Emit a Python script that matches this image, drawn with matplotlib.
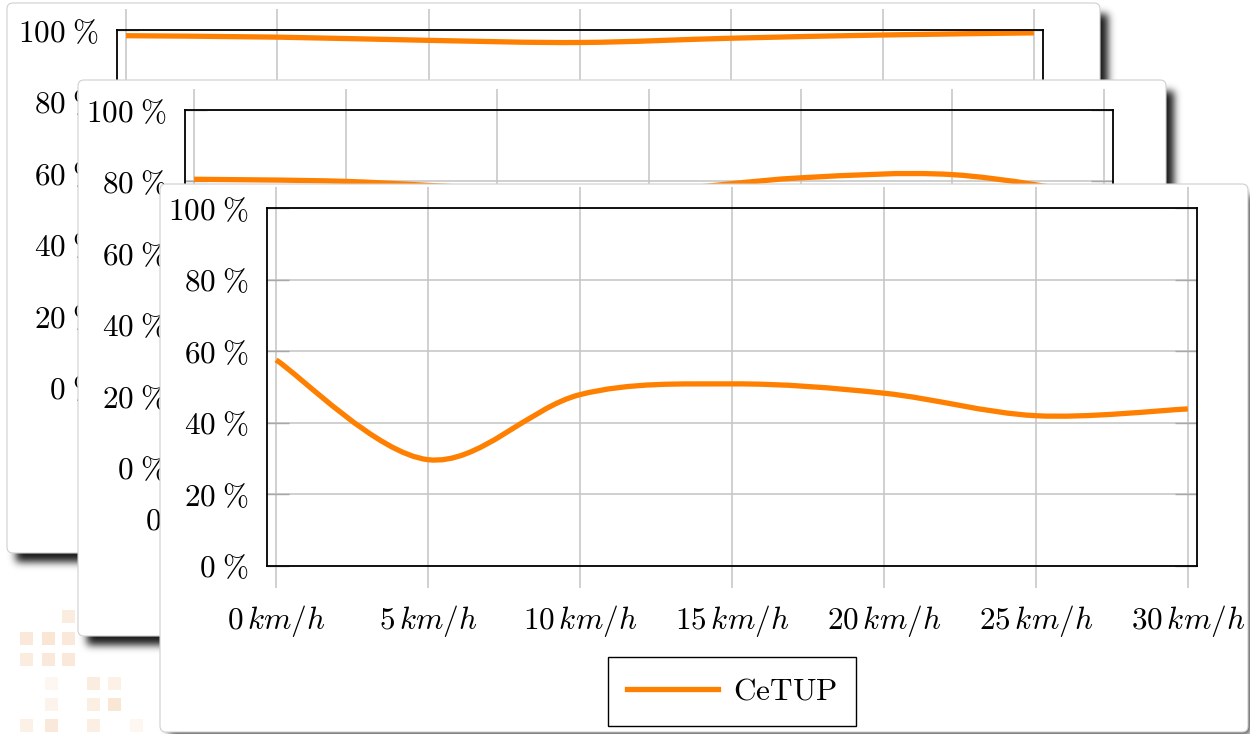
import numpy as np
import matplotlib
matplotlib.use("Agg")
import matplotlib.pyplot as plt
from matplotlib.patches import FancyBboxPatch, Rectangle, PathPatch
from matplotlib.path import Path
from matplotlib.lines import Line2D

plt.rcParams["mathtext.fontset"] = "cm"
plt.rcParams["font.family"] = ["DejaVu Serif"]

# ----------------------
# data (back to front)
# ----------------------
speeds = [0, 5, 10, 15, 20, 25, 30]
pct_ticks = [0, 20, 40, 60, 80, 100]
back_share = [98.4, 98.0, 97.1, 96.5, 97.7, 98.6, 99.2]
mid_share = [80.6, 80.0, 78.0, 77.5, 81.0, 81.9, 76.0]
front_share = [57.5, 29.6, 47.8, 50.8, 48.2, 41.9, 43.8]
series_name = "CeTUP"

speed_labels = [r"$%d\,km/h$" % s for s in speeds]
pct_labels = [r"$%d\;\%%$" % p for p in pct_ticks]

# ----------------------
# layout in pixels (x0, y0, x1, y1), top-left origin
# ----------------------
W, H = 1250, 734
cards = [(7, 3, 1100, 553), (78, 80, 1166, 636), (160, 184, 1248, 732)]
frames = [(117, 30, 1043, 387), (185, 110, 1113, 467), (267, 208, 1197, 565.5)]
shares = [back_share, mid_share, front_share]

ORANGE = "#ff8000"
GRID = "#c4c4c4"
FS = 22.5


def smooth_path(xs, ys, t=1 / 6):
    # cubic bezier through the points (like pgfplots "smooth")
    pts = np.column_stack([xs, ys]).astype(float)
    n = len(pts)
    verts = [pts[0]]
    codes = [Path.MOVETO]
    for i in range(n - 1):
        p0 = pts[max(i - 1, 0)]
        p1 = pts[i]
        p2 = pts[i + 1]
        p3 = pts[min(i + 2, n - 1)]
        c1 = p1 + (p2 - p0) * t
        c2 = p2 - (p3 - p1) * t
        verts += [c1, c2, p2]
        codes += [Path.CURVE4] * 3
    return Path(verts, codes)


def blur(m, sigma):
    r = int(3 * sigma)
    k = np.exp(-0.5 * (np.arange(-r, r + 1) / sigma) ** 2)
    k /= k.sum()
    m = np.apply_along_axis(lambda v: np.convolve(v, k, mode="same"), 0, m)
    m = np.apply_along_axis(lambda v: np.convolve(v, k, mode="same"), 1, m)
    return m


fig = plt.figure(figsize=(W / 100, H / 100), dpi=100)
fig.patch.set_facecolor("white")

# background decoration (faint squares bottom left)
bg = fig.add_axes([0, 0, 1, 1], zorder=0)
bg.set_xlim(0, W)
bg.set_ylim(H, 0)
bg.axis("off")
squares = [(62, 610, 0.35), (20, 632, 0.4), (42, 632, 0.45), (62, 632, 0.4),
           (20, 653, 0.35), (42, 653, 0.4), (62, 653, 0.4),
           (45, 677, 0.15), (87, 677, 0.35), (108, 677, 0.25),
           (45, 698, 0.2), (87, 698, 0.3), (108, 698, 0.45),
           (20, 719, 0.25), (45, 719, 0.4), (87, 719, 0.3), (130, 719, 0.15)]
for sx, sy, a in squares:
    bg.add_patch(Rectangle((sx, sy), 13, 13, facecolor="#f3c9a3", edgecolor="none", alpha=a))

for k, (card, frame, share) in enumerate(zip(cards, frames, shares)):
    # card layer: shadow + white rounded card
    layer = fig.add_axes([0, 0, 1, 1], zorder=2 * k + 1)
    layer.set_xlim(0, W)
    layer.set_ylim(H, 0)
    layer.axis("off")
    layer.patch.set_alpha(0)

    cx0, cy0, cx1, cy1 = card
    mask = np.zeros((H, W))
    mask[cy0 + 11:min(cy1 + 9, H), cx0 + 9:min(cx1 + 8, W)] = 1
    mask = blur(mask, 4)
    shadow = np.zeros((H, W, 4))
    shadow[..., 3] = mask * 0.9
    layer.imshow(shadow, extent=(0, W, H, 0), aspect="auto", interpolation="bilinear")

    rad = 6
    layer.add_patch(FancyBboxPatch((cx0 + rad, cy0 + rad), cx1 - cx0 - 2 * rad, cy1 - cy0 - 2 * rad,
                                   boxstyle="round,pad=%d" % rad, facecolor="white",
                                   edgecolor="#d0d0d0", linewidth=0.8))

    # chart
    fx0, fy0, fx1, fy1 = frame
    ax = fig.add_axes([fx0 / W, 1 - fy1 / H, (fx1 - fx0) / W, (fy1 - fy0) / H], zorder=2 * k + 2)
    ax.set_facecolor("white")
    ax.set_xlim(-0.3, 30.3)
    ax.set_ylim(0, 100)

    ax.set_yticks(pct_ticks)
    ax.set_yticklabels(pct_labels, fontsize=FS)
    ax.yaxis.grid(True, color=GRID, linewidth=1.1)
    ax.tick_params(axis="y", direction="in", length=16, width=1, color="#a8a8a8",
                   left=True, right=True, pad=13)

    ax.set_xticks(speeds)
    ax.set_xticklabels(speed_labels, fontsize=FS)
    ax.tick_params(axis="x", length=0, pad=27)
    ax.vlines(speeds, -0.062, 1.058, transform=ax.get_xaxis_transform(),
              colors=GRID, linewidth=1.1, clip_on=False, zorder=0.5)
    ax.set_axisbelow(True)

    for sp in ax.spines.values():
        sp.set_color("black")
        sp.set_linewidth(1.3)
        sp.set_zorder(3)

    ax.add_patch(PathPatch(smooth_path(speeds, share), facecolor="none", edgecolor=ORANGE,
                           linewidth=3.8, capstyle="butt", zorder=2))

    handle = Line2D([], [], color=ORANGE, linewidth=3.8)
    leg_x = (fx0 + fx1) / 2 / W
    leg_y = 1 - (fy1 + 126) / H
    leg = ax.legend([handle], [r"$\mathrm{%s}$" % series_name], loc="center",
                    bbox_to_anchor=(leg_x, leg_y), bbox_transform=fig.transFigure,
                    fontsize=FS, frameon=True, fancybox=False, framealpha=1,
                    edgecolor="black", handlelength=2.9, handletextpad=0.5,
                    borderpad=0.6, borderaxespad=0)
    leg.get_frame().set_linewidth(1.0)

fig.savefig("out.png", dpi=100, facecolor="white")
